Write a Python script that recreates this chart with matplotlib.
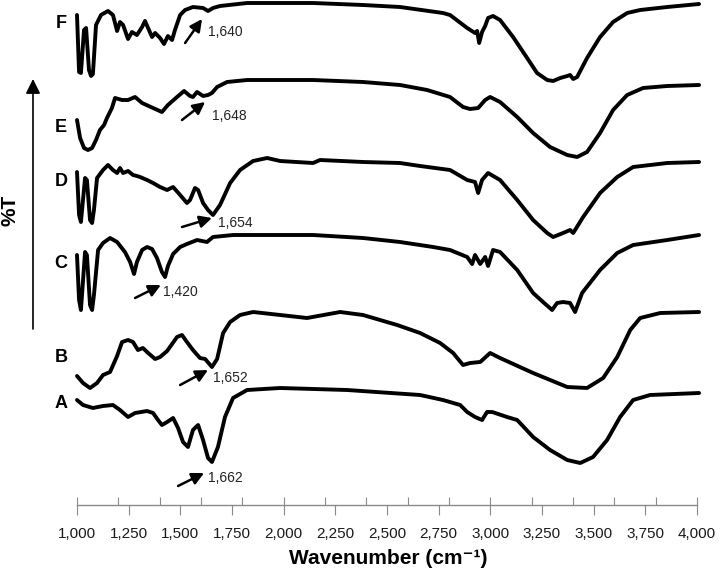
import matplotlib
matplotlib.use("Agg")
import matplotlib.pyplot as plt
from matplotlib.ticker import MultipleLocator, FuncFormatter

plt.rcParams['font.family'] = ['Liberation Sans', 'DejaVu Sans']

# ---------------- data (wavenumber cm^-1, transmittance in stacked arbitrary units) ----------------
wn_F = [1000, 1010, 1019, 1034, 1044, 1058, 1068, 1077, 1092, 1116, 1150, 1174, 1194, 1208, 1223, 1247,
        1266, 1290, 1315, 1329, 1344, 1363, 1378, 1402, 1421, 1440, 1460, 1474, 1499, 1523, 1561, 1610,
        1634, 1658, 1692, 1823, 2142, 2384, 2563, 2771, 2805, 2888, 2926, 2936, 2946, 2960, 2975, 2989,
        3013, 3047, 3110, 3178, 3226, 3275, 3304, 3338, 3372, 3386, 3401, 3420, 3468, 3531, 3594, 3662,
        3725, 3856, 4010]
T_F = [480, 423, 422, 465, 467, 425, 419, 421, 470, 480, 484, 480, 464, 473, 470, 456,
       463, 460, 468, 474, 467, 458, 462, 457, 451, 459, 455, 465, 480, 485, 488, 487,
       484, 487, 489, 492, 492, 490, 488, 482, 480, 467, 462, 464, 452, 463, 469, 477,
       479, 475, 458, 437, 422, 415, 414, 417, 419, 420, 416, 418, 437, 458, 473, 482,
       485, 488, 491]

wn_E = [1000, 1015, 1034, 1053, 1073, 1092, 1111, 1131, 1145, 1169, 1184, 1218, 1247, 1281, 1315, 1368,
        1411, 1440, 1484, 1518, 1547, 1561, 1581, 1610, 1634, 1653, 1678, 1726, 1823, 2142, 2384, 2563,
        2694, 2805, 2868, 2902, 2941, 2975, 2999, 3047, 3130, 3207, 3289, 3372, 3420, 3468, 3531, 3594,
        3662, 3739, 3856, 4010]
T_E = [375, 357, 347, 345, 347, 355, 365, 370, 377, 387, 397, 395, 395, 398, 392, 387,
       383, 390, 398, 404, 399, 398, 403, 399, 400, 402, 408, 413, 415, 415, 413, 410,
       405, 398, 388, 386, 387, 395, 398, 393, 378, 362, 348, 340, 338, 343, 362, 385,
       400, 407, 409, 410]

wn_D = [1000, 1010, 1019, 1039, 1048, 1063, 1073, 1082, 1097, 1126, 1150, 1174, 1194, 1208, 1223, 1247,
        1271, 1290, 1305, 1339, 1368, 1402, 1436, 1465, 1499, 1532, 1547, 1571, 1586, 1610, 1634, 1658,
        1692, 1741, 1789, 1852, 1920, 1983, 2142, 2176, 2384, 2563, 2660, 2805, 2888, 2926, 2941, 2960,
        2989, 3047, 3130, 3207, 3275, 3304, 3352, 3386, 3401, 3449, 3531, 3614, 3691, 3856, 4010]
T_D = [323, 280, 273, 317, 315, 275, 272, 285, 317, 325, 330, 325, 322, 327, 322, 324,
       320, 319, 318, 315, 312, 308, 305, 308, 300, 292, 295, 307, 305, 292, 285, 280,
       290, 312, 325, 334, 337, 334, 332, 335, 333, 332, 329, 325, 315, 313, 302, 315,
       322, 315, 295, 275, 262, 258, 262, 265, 262, 278, 302, 318, 328, 332, 333]

wn_C = [1000, 1010, 1019, 1039, 1048, 1063, 1073, 1082, 1102, 1126, 1160, 1194, 1232, 1257, 1276, 1290,
        1315, 1339, 1363, 1387, 1411, 1426, 1440, 1465, 1499, 1532, 1581, 1629, 1658, 1755, 2142, 2384,
        2563, 2723, 2805, 2888, 2912, 2926, 2951, 2975, 2989, 3013, 3047, 3130, 3207, 3255, 3299, 3323,
        3352, 3386, 3410, 3444, 3531, 3614, 3691, 3856, 4010]
T_C = [240, 195, 185, 243, 240, 190, 185, 200, 245, 252, 257, 253, 243, 233, 221, 233,
       245, 248, 246, 237, 223, 218, 229, 241, 248, 251, 255, 253, 258, 260, 260, 257,
       253, 248, 245, 238, 231, 240, 231, 238, 229, 245, 243, 225, 202, 193, 185, 192,
       193, 192, 183, 202, 225, 242, 250, 255, 260]

wn_B = [1000, 1029, 1063, 1097, 1126, 1160, 1194, 1218, 1247, 1271, 1295, 1319, 1344, 1378, 1402, 1436,
        1484, 1508, 1532, 1561, 1595, 1620, 1653, 1678, 1707, 1741, 1789, 1852, 1983, 2113, 2273, 2384,
        2549, 2660, 2757, 2820, 2868, 2902, 2951, 2999, 3047, 3207, 3372, 3468, 3546, 3614, 3677, 3725,
        3822, 4010]
T_B = [119, 112, 107, 112, 120, 123, 139, 153, 155, 153, 145, 147, 142, 136, 138, 144,
       158, 160, 153, 145, 137, 136, 128, 136, 162, 173, 180, 183, 180, 177, 183, 180,
       170, 162, 152, 142, 130, 132, 133, 142, 137, 122, 108, 107, 117, 138, 165, 177,
       182, 183]

wn_A = [1000, 1029, 1077, 1126, 1174, 1208, 1247, 1281, 1339, 1368, 1392, 1411, 1436, 1465, 1489, 1513,
        1537, 1561, 1586, 1610, 1634, 1653, 1682, 1716, 1755, 1823, 1983, 2307, 2660, 2771, 2854, 2888,
        2926, 2960, 2984, 3009, 3081, 3130, 3207, 3289, 3372, 3435, 3497, 3565, 3628, 3691, 3773, 4010]
T_A = [95, 90, 87, 89, 90, 85, 78, 82, 84, 82, 75, 70, 73, 77, 67, 53,
       48, 65, 70, 55, 37, 33, 48, 78, 97, 105, 107, 105, 100, 95, 90, 83,
       78, 75, 83, 83, 78, 75, 58, 45, 35, 32, 38, 55, 78, 95, 100, 102]

sample_labels = ['A', 'B', 'C', 'D', 'E', 'F']
peak_labels = ['1,662', '1,652', '1,420', '1,654', '1,648', '1,640']
xtick_values = list(range(1000, 4001, 250))

curves = [(wn_A, T_A), (wn_B, T_B), (wn_C, T_C), (wn_D, T_D), (wn_E, T_E), (wn_F, T_F)]

# ---------------- layout ----------------
label_pos = [(923, 91), (923, 138), (923, 232), (923, 313), (923, 368), (923, 472)]
arrow_tail = [(1489, 9), (1499, 110), (1281, 197), (1508, 268), (1508, 375), (1523, 452)]
arrow_head = [(1615, 22), (1634, 125), (1406, 210), (1653, 277), (1620, 393), (1605, 476)]
text_pos = [(1634, 17), (1658, 117), (1416, 203), (1682, 272), (1653, 379), (1634, 463)]

fig = plt.figure(figsize=(7.2, 5.72), dpi=100)
ax = fig.add_axes([77 / 720, (572 - 505) / 572, 620 / 720, 505 / 572])
ax.set_xlim(1000, 4000)
ax.set_ylim(-10, 495)

for wn, t in curves:
    ax.plot(wn, t, color='black', lw=2.8, solid_joinstyle='round',
            solid_capstyle='round', clip_on=False)

for lab, (lx, ly) in zip(sample_labels, label_pos):
    ax.text(lx, ly, lab, fontsize=13, fontweight='bold', ha='center', va='center',
            clip_on=False)

for pl, tail, head, tp in zip(peak_labels, arrow_tail, arrow_head, text_pos):
    ax.annotate('', xy=head, xytext=tail,
                arrowprops=dict(arrowstyle='-|>', color='black', lw=1.8,
                                mutation_scale=18, shrinkA=0, shrinkB=0),
                annotation_clip=False)
    ax.text(tp[0], tp[1], pl, fontsize=10, ha='left', va='center', color='#222222')

# axes styling
for side in ['left', 'right', 'top']:
    ax.spines[side].set_visible(False)
ax.spines['bottom'].set_color('#8a8a8a')
ax.spines['bottom'].set_linewidth(1.0)
ax.set_yticks([])
ax.xaxis.remove_overlapping_locs = False
ax.set_xticks(xtick_values)
ax.xaxis.set_minor_locator(MultipleLocator(200))
ax.xaxis.set_major_formatter(FuncFormatter(lambda v, p: f"{int(round(v)):,}"))
ax.tick_params(axis='x', which='major', direction='out', length=7.2, width=0.8,
               color='#8a8a8a', labelsize=11, pad=9, labelcolor='#1a1a1a')
ax.tick_params(axis='x', which='minor', direction='in', length=5.8, width=0.8,
               color='#8a8a8a')

fig.text(388 / 720, (572 - 559) / 572, 'Wavenumber (cm⁻¹)', fontsize=15, fontweight='bold',
         ha='center', va='center')
fig.text(10 / 720, (572 - 210) / 572, '%T', fontsize=15, fontweight='bold', rotation=90,
         ha='center', va='center')

# vertical %T arrow
ax.annotate('', xy=(33, 572 - 79), xytext=(33, 572 - 329),
            xycoords='figure pixels', textcoords='figure pixels',
            arrowprops=dict(arrowstyle='-|>', color='black', lw=1.2,
                            mutation_scale=22, shrinkA=0, shrinkB=0),
            annotation_clip=False)

fig.savefig('out.png', dpi=100)
